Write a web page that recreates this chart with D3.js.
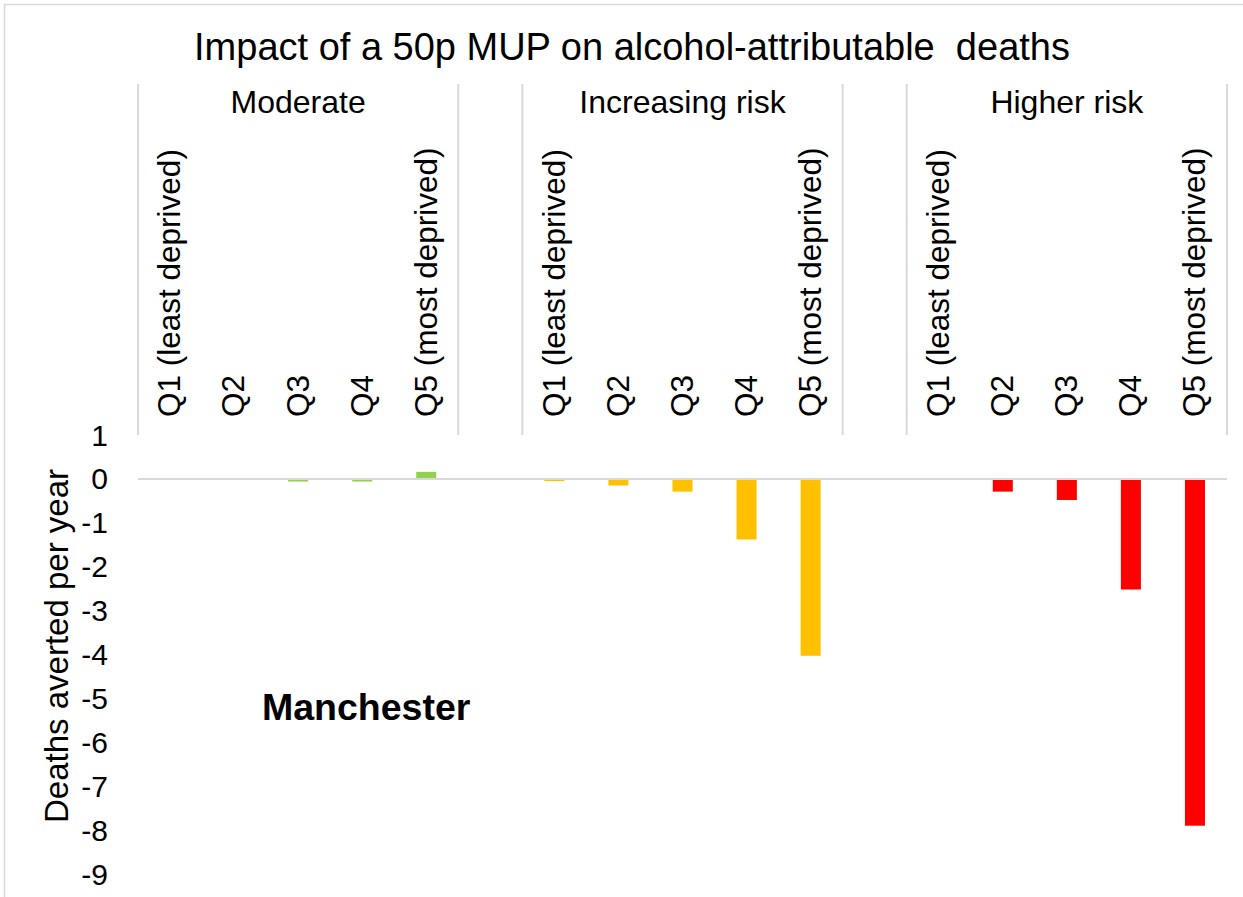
<!DOCTYPE html>
<html>
<head>
<meta charset="utf-8">
<script src="https://cdn.jsdelivr.net/npm/d3@7"></script>
<style>
  body { margin: 0; background: #fff; }
  svg { display: block; font-family: "Liberation Sans", Arial, sans-serif; }
  text { white-space: pre; }
</style>
</head>
<body>
<div id="chart"></div>
<script>
// values (deaths averted per year, Manchester)
const groups = ["Moderate", "Increasing risk", "Higher risk"];
const quintiles = ["Q1 (least deprived)", "Q2", "Q3", "Q4", "Q5 (most deprived)"];
const moderate = [0.01, -0.01, -0.06, -0.06, 0.16];
const increasing = [-0.05, -0.15, -0.29, -1.38, -4.03];
const higher = [0, -0.29, -0.48, -2.52, -7.9];
const groupColors = ["#92d050", "#ffc000", "#ff0000"];
const yTicks = [1, 0, -1, -2, -3, -4, -5, -6, -7, -8, -9];

const width = 1243, height = 897;
const series = [moderate, increasing, higher];

// flat list of category slots, with an empty slot between groups (like the excel sheet)
const slots = [];
groups.forEach((g, gi) => {
  quintiles.forEach((q, qi) => {
    slots.push({ key: g + "|" + q, group: g, label: q, value: series[gi][qi], color: groupColors[gi] });
  });
  if (gi < groups.length - 1) slots.push({ key: "gap" + gi, gap: true });
});

const svg = d3.select("#chart").append("svg")
  .attr("width", width)
  .attr("height", height);

// outer chart border
svg.append("rect")
  .attr("x", 4.5).attr("y", 4.5)
  .attr("width", width + 20).attr("height", height + 20)
  .attr("fill", "none")
  .attr("stroke", "#d9d9d9")
  .attr("stroke-width", 1.5);

const x = d3.scaleBand()
  .domain(slots.map(d => d.key))
  .range([138, 1227]);

const y = d3.scaleLinear()
  .domain([-9, 1])
  .range([874, 435]);

const barW = x.bandwidth() * 0.3125;

// title
svg.append("text")
  .attr("x", 632).attr("y", 60)
  .attr("text-anchor", "middle")
  .attr("font-size", 38)
  .attr("fill", "#000")
  .text("Impact of a 50p MUP on alcohol-attributable  deaths");

// y axis tick labels
svg.append("g")
  .selectAll("text")
  .data(yTicks)
  .join("text")
  .attr("x", 108)
  .attr("y", d => y(d))
  .attr("dy", "0.35em")
  .attr("text-anchor", "end")
  .attr("font-size", 30)
  .attr("fill", "#000")
  .text(d => d);

// y axis title
svg.append("text")
  .attr("transform", "translate(68,646) rotate(-90)")
  .attr("text-anchor", "middle")
  .attr("font-size", 33)
  .attr("fill", "#000")
  .text("Deaths averted per year");

// bars
svg.append("g")
  .selectAll("rect")
  .data(slots.filter(d => !d.gap))
  .join("rect")
  .attr("x", d => x(d.key) + (x.bandwidth() - barW) / 2)
  .attr("y", d => y(Math.max(0, d.value)))
  .attr("width", barW)
  .attr("height", d => Math.abs(y(d.value) - y(0)))
  .attr("fill", d => d.color);

// zero line, drawn over the bars
svg.append("line")
  .attr("x1", x.range()[0]).attr("x2", x.range()[1])
  .attr("y1", y(0)).attr("y2", y(0))
  .attr("stroke", "#d9d9d9")
  .attr("stroke-width", 2);

// group separators of the multi level category axis (top)
const bounds = [];
slots.forEach((d, i) => {
  const prev = slots[i - 1];
  if (i === 0 || (prev && (prev.gap || d.gap))) bounds.push(x(d.key));
});
bounds.push(x.range()[1]);

svg.append("g")
  .selectAll("line")
  .data(bounds)
  .join("line")
  .attr("x1", d => d).attr("x2", d => d)
  .attr("y1", 84).attr("y2", y(1))
  .attr("stroke", "#d9d9d9")
  .attr("stroke-width", 2);

// group labels
svg.append("g")
  .selectAll("text")
  .data(groups)
  .join("text")
  .attr("x", g => {
    const ks = slots.filter(d => d.group === g);
    return (x(ks[0].key) + x(ks[ks.length - 1].key) + x.bandwidth()) / 2;
  })
  .attr("y", 113)
  .attr("text-anchor", "middle")
  .attr("font-size", 32)
  .attr("fill", "#000")
  .text(g => g);

// quintile labels, rotated
svg.append("g")
  .selectAll("text")
  .data(slots.filter(d => !d.gap))
  .join("text")
  .attr("transform", d => `translate(${x(d.key) + x.bandwidth() / 2},417) rotate(-90)`)
  .attr("dy", "0.33em")
  .attr("font-size", 31.5)
  .attr("fill", "#000")
  .text(d => d.label);

// city label
svg.append("text")
  .attr("x", 262).attr("y", 720)
  .attr("font-size", 37.5)
  .attr("font-weight", "bold")
  .attr("fill", "#000")
  .text("Manchester");
</script>
</body>
</html>
